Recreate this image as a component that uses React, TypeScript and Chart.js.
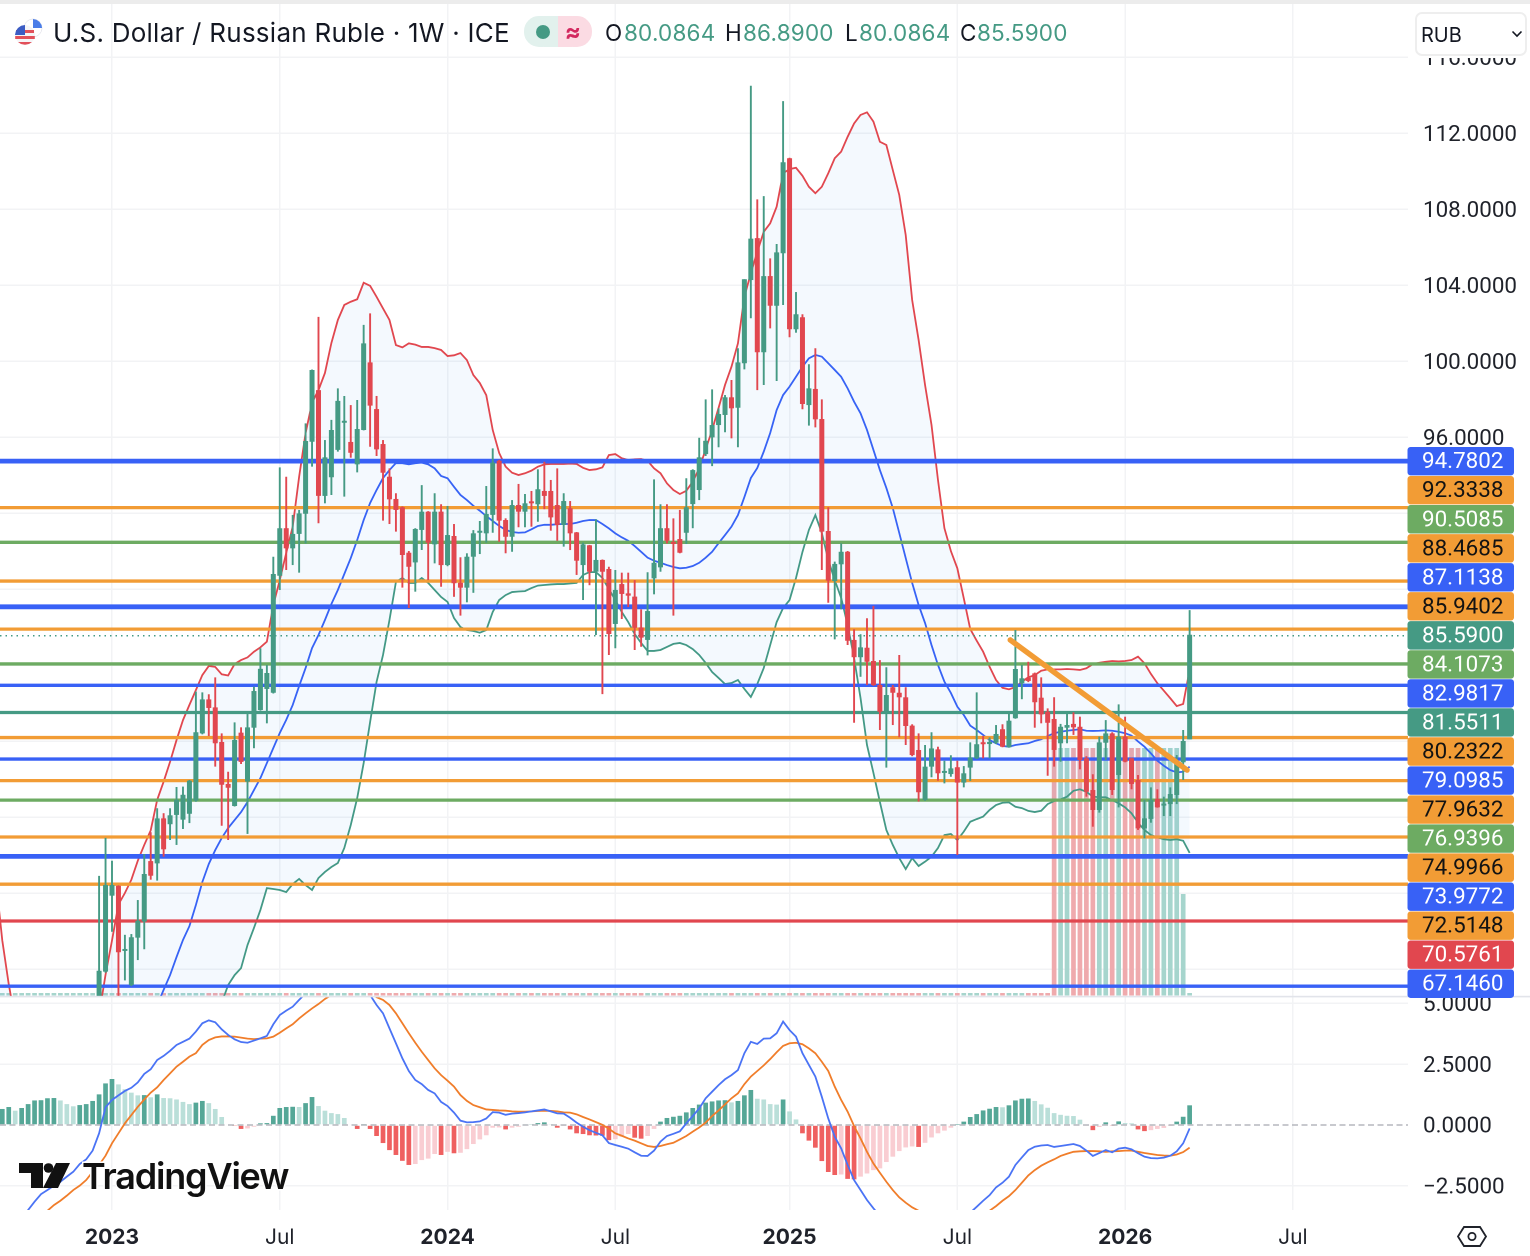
import React, { useEffect, useRef } from 'react';
import Chart from 'chart.js/auto';

// weekly candles, week 0 is the first week of 2023
const firstCandleWeek = -2;
const firstSeriesWeek = -18;

const opens = [
  65, 67.86, 71.86, 72.38, 68.95, 67.16, 69.65, 70.5, 73.68, 73.56, 75.93, 75.62, 76.11, 75.86, 76.17, 76.86, 80.4, 82.19, 81.77, 79.95,
  77.74, 76.58, 80.44, 77.86, 80.7, 81.63, 82.74, 82.54, 88.7, 91.2, 90.14, 90.9, 91.96, 95.75, 98.47, 92.9, 93.88, 95.32, 96.75, 95.74,
  94.56, 96.37, 99.93, 97.47, 95.63, 93.91, 92.74, 92.3, 89.91, 89.4, 91.11, 92.07, 90.35, 92.07, 89.26, 90.79, 88.33, 88.07, 89.7, 90.96,
  90.93, 91.9, 94.75, 91.63, 90.75, 92.42, 92.07, 92.58, 92.46, 93.16, 93.16, 92.42, 91.37, 92.25, 90.98, 89.26, 90.3, 88.91, 89.53, 89.05,
  86.16, 88.26, 87.77, 87.6, 85.98, 85.32, 88.56, 89.14, 91.2, 90.44, 90.63, 90.96, 92.47, 93.21, 95.1, 95.98, 96.63, 97.16, 98.09, 97.54,
  99.88, 104.26, 106.47, 100.46, 104.47, 102.91, 105.67, 110.67, 101.67, 102.3, 97.68, 98.53, 96.95, 91.05, 88.42, 89.3, 89.96, 85.32, 84.41, 84.91,
  84.21, 82.95, 81.46, 82.83, 82.54, 82.3, 80.81, 79.53, 76.9, 78.65, 79.56, 78.32, 78.26, 78.62, 77.81, 78.6, 79.09, 79.9, 79.84, 79.91,
  80.62, 79.67, 81.2, 83.04, 83.33, 83.56, 82.28, 81.54, 81.16, 79.88, 80.7, 80.9, 80.75, 79.09, 77.42, 76.37, 79.91, 80.4, 78.21, 80.23,
  79.09, 77.95, 75.4, 75.9, 76.95, 76.6, 76.68, 77.16, 78.88, 80.0864,
];
const highs = [
  72.9, 74.9, 73.7, 72.4, 69.8, 69.84, 71.63, 74.05, 75.2, 76.46, 76.2, 76.46, 77.58, 77.6, 77.95, 82.6, 82.56, 82.46, 83.35, 80.4,
  78.38, 80.98, 80.72, 81.42, 82.86, 84.88, 84, 89.7, 94.4, 93.91, 91.9, 92.16, 96.72, 99.55, 102.32, 95.84, 96.9, 98.56, 98.16, 97.68,
  97.95, 101.9, 102.51, 98.16, 95.84, 94.35, 93.04, 92.35, 90, 91.2, 93.47, 92.1, 93.04, 92.46, 92.37, 91.42, 89.67, 89.88, 91.1, 91.58,
  93.42, 95.4, 94.8, 91.72, 92.68, 93.53, 93, 93.16, 94.3, 94.7, 93.74, 94.35, 93.04, 92.63, 91, 90.44, 90.32, 91.67, 89.55, 89.17,
  89, 88.86, 88.86, 88.47, 86.93, 88.88, 93.77, 92.46, 92.46, 91.72, 92.16, 93.83, 94.3, 95.96, 97.98, 98.51, 97.51, 98.21, 99, 100.67,
  104.3, 114.49, 108.51, 108.68, 105.4, 106.16, 113.68, 110.7, 103.63, 102.46, 99.83, 100.67, 97.98, 92.3, 89.44, 90.4, 90, 85.88, 85.62, 86.46,
  87.11, 84.26, 83.88, 82.95, 84.53, 82.83, 80.88, 80.4, 79.79, 80.46, 79.7, 78.96, 79.25, 78.96, 78.68, 79.93, 82.56, 80.26, 80.19, 80.84,
  80.88, 81.46, 85.84, 84, 84.17, 83.6, 83.35, 81.72, 82.3, 80.9, 81.46, 81.51, 81.28, 79.2, 78.25, 80.23, 81.1, 80.46, 81.93, 81.28,
  79.12, 78.21, 76.9, 77.56, 77.46, 77.07, 77.56, 79.26, 80.58, 86.89,
];
const lows = [
  64, 67.8, 69.96, 66, 67.4, 67.1, 68.47, 69.04, 72.7, 72.65, 73.91, 74.79, 74.53, 75.37, 75.68, 76.8, 80.35, 80.26, 78.65, 75.54,
  74.79, 76.55, 78.79, 75.11, 79.62, 81.6, 80.93, 82.5, 87.95, 89, 89.26, 88.86, 90.4, 94.44, 91.46, 92.51, 92.95, 95.23, 92.86, 94.91,
  94.14, 96.35, 95.49, 95, 91.6, 91.42, 91.02, 88.07, 87, 87.86, 90.05, 88.47, 89.35, 88.12, 89.2, 87.59, 86.6, 87.3, 87.8, 89.84,
  90.44, 90.96, 90.49, 89.88, 89.96, 91.25, 91.25, 91.28, 91.54, 92.2, 91.07, 90.54, 90.23, 90.05, 88.74, 87.42, 88.2, 85.58, 82.47, 84.53,
  84.88, 86.42, 87.05, 84.79, 84.96, 84.51, 87.72, 88.91, 90.4, 86.6, 89.88, 90.37, 91.2, 92.68, 95, 94.47, 95.46, 96.25, 95.93, 95.46,
  99.56, 102.25, 98.47, 98.74, 101.72, 98.95, 102.95, 101.25, 101.49, 97.46, 96.6, 96.51, 89, 87.28, 85.35, 86.93, 85.05, 80.96, 83.38, 82.95,
  82.9, 80.58, 78.6, 80.84, 80.2, 79.79, 79.2, 76.81, 76.85, 78.09, 77.91, 77.77, 78.12, 74, 77.56, 77.9, 79.05, 79.09, 79.09, 79.84,
  79.67, 79.65, 81.17, 82.2, 83.1, 80.7, 80.93, 78.17, 78.65, 78.91, 79.88, 80.32, 78.51, 77.07, 75.49, 76.23, 79, 77.16, 76.51, 78.88,
  77.46, 75.32, 74.88, 75.7, 76.49, 76.05, 76.05, 76.68, 77.95, 80.0864,
];
const closes = [
  67.91, 72.42, 72.42, 68.88, 69, 69.67, 70.54, 73, 72.91, 75.93, 74.3, 76.09, 76.9, 77.17, 77.91, 80.46, 82.19, 81.74, 79.88, 77.7,
  77.54, 80.05, 78.9, 80.72, 82.63, 83.8, 83.58, 88.79, 91.2, 90.14, 90.9, 91.98, 95.79, 99.53, 92.9, 94.93, 96.37, 97.9, 96.8, 95.17,
  96.42, 100.93, 97.65, 95.35, 94.12, 92.72, 92.16, 89.79, 89.17, 91.16, 92.07, 90.44, 92.07, 89.26, 90.84, 88.3, 88.07, 89.7, 90.93, 90.98,
  91.95, 94.65, 91.6, 90.75, 92.42, 92.07, 92.51, 92.51, 93.25, 92.9, 91.77, 91.37, 92.63, 90.93, 89.49, 90.35, 88.91, 89.53, 88.91, 85.63,
  87.95, 87.74, 87.65, 85.96, 85.44, 86.84, 89.38, 91.2, 90.54, 90.37, 89.91, 92.3, 94.26, 94.93, 95.8, 96.63, 97.21, 98.09, 97.51, 99.93,
  104.3, 106.44, 100.46, 104.47, 102.91, 105.72, 110.46, 101.67, 102.46, 97.74, 98.56, 96.93, 91.02, 88.44, 89.32, 89.96, 85.28, 84.41, 84.93, 84.17,
  82.95, 81.54, 82.42, 82.54, 82.3, 80.79, 79.26, 77.3, 78.65, 79.61, 78.3, 78.35, 78.56, 77.81, 78.3, 79.14, 79.83, 79.83, 79.95, 80.37,
  79.7, 81.07, 83.79, 83.3, 83.16, 82.04, 81.4, 80.96, 79.53, 80.75, 80.84, 80.72, 79, 77.33, 76.37, 79.93, 80.4, 77.42, 80.23, 78.91,
  77.74, 75.4, 75.93, 76.9, 76.51, 76.68, 77.21, 78.88, 80, 85.59,
];

const volumes = [
  1, 1, 1, 1, 1, 1, 1, 1, 1, 1, 1, 1, 1, 1, 1, 1, 1, 1, 1, 1, 1, 1, 1, 1, 1, 1, 1, 1, 1, 1, 1, 1, 1, 1, 1, 1, 1, 1, 1, 1,
  1, 1, 1, 1, 1, 1, 1, 1, 1, 1, 1, 1, 1, 1, 1, 1, 1, 1, 1, 1, 1, 1, 1, 1, 1, 1, 1, 1, 1, 1, 1, 1, 1, 1, 1, 1, 1, 1, 1, 1,
  1, 1, 1, 1, 1, 1, 1, 1, 1, 1, 1, 1, 1, 1, 1, 1, 1, 1, 1, 1, 1, 1, 1, 1, 1, 1, 1, 1, 1, 1, 1, 1, 1, 1, 1, 1, 1, 1, 1, 1,
  1, 1, 1, 1, 1, 1, 1, 1, 1, 1, 1, 1, 1, 1, 1, 1, 1, 1, 1, 1, 1, 1, 1, 1, 1, 1, 1, 1, 1, 1, 1, 1, 1, 1, 1, 1, 1, 1, 1, 1,
  1, 1, 1, 1, 100, 100, 100, 100, 100, 100, 100, 100, 100, 100, 100, 100, 100, 100, 100, 100, 100, 100, 100, 100, 41, 1,
];

// bollinger bands, from firstSeriesWeek
const bbUpper = [
  72.7, 69.5, 67.2, 65.3, 64.5, 64, 63.6, 63.4, 63.2, 63.1, 63, 63, 63.2, 63.5, 64, 64.8, 65.6, 67.7, 69.5, 71.4,
  72, 72.7, 73.7, 74.53, 75.3, 76.9, 77.86, 78.91, 80.05, 81.1, 81.9, 82.68, 83.47, 83.95, 83.9, 83.51, 83.45, 84.05, 84.26, 84.4,
  84.7, 84.93, 85.23, 87.16, 88.47, 89.9, 91.28, 93.91, 96.2, 97.8, 98.47, 99.37, 100.95, 102.16, 102.95, 103.12, 103.25, 104.12, 103.96, 103.38,
  102.77, 102.16, 100.84, 100.72, 100.93, 100.86, 100.74, 100.74, 100.68, 100.58, 100.26, 100.3, 100.42, 100.05, 99.26, 98.84, 98.2, 96.37, 95.16, 94.44,
  94.12, 94, 94.09, 94.23, 94.44, 94.56, 94.58, 94.58, 94.58, 94.6, 94.58, 94.38, 94.26, 94.3, 94.4, 95.05, 95.1, 94.88, 94.79, 94.83,
  94.84, 94.75, 94.35, 94.09, 93.56, 93.21, 93, 93.17, 93.65, 94.35, 95.35, 96.37, 97.53, 98.74, 99.7, 100.93, 103.38, 104.62, 105.75, 106.8,
  107.25, 108.12, 109.88, 110.1, 110.17, 109.75, 109.17, 108.83, 109.17, 109.88, 110.67, 111.02, 111.8, 112.5, 112.95, 113.09, 112.6, 111.54, 111.37, 110.05,
  108.74, 106.63, 103.21, 101.11, 98.74, 96.63, 93.74, 91.2, 90, 89.09, 87.51, 85.89, 85.28, 84.7, 83.91, 83.21, 82.8, 82.72, 82.84, 83.12,
  83.35, 83.47, 83.7, 83.77, 83.77, 83.77, 83.79, 83.77, 83.74, 83.83, 84.05, 84.12, 84.17, 84.21, 84.19, 84.21, 84.26, 84.44, 84.09, 83.53,
  83.04, 82.65, 82.25, 81.84, 81.95, 83.74,
];
const bbMid = [
  64.5, 63, 61.8, 61, 60.5, 60.2, 60, 60, 60, 60.1, 60.2, 60.4, 60.6, 60.8, 61, 61.3, 61.6, 62, 62.4, 62.9,
  63.4, 63.9, 64.4, 64.9, 65.5, 66.1, 66.9, 67.68, 68.63, 69.53, 70.26, 71.37, 72.58, 73.53, 74.26, 74.89, 75.42, 75.84, 76.26, 76.79,
  77.42, 78.05, 78.84, 79.63, 80.42, 81.11, 81.89, 82.89, 83.84, 84.89, 85.58, 86.37, 87.21, 87.95, 88.79, 89.63, 90.58, 91.63, 92.53, 93.21,
  93.84, 94.26, 94.63, 94.62, 94.56, 94.62, 94.65, 94.56, 94.35, 93.95, 93.83, 93.38, 92.95, 92.68, 92.38, 92.12, 91.84, 91.58, 91.32, 91.11,
  91, 90.96, 90.98, 91.14, 91.32, 91.38, 91.38, 91.41, 91.42, 91.42, 91.49, 91.58, 91.63, 91.63, 91.42, 91.19, 90.93, 90.72, 90.54, 90.26,
  89.96, 89.65, 89.49, 89.38, 89.26, 89.16, 89.09, 89.12, 89.21, 89.38, 89.65, 89.96, 90.41, 90.84, 91.28, 91.89, 92.84, 93.84, 94.37, 95.23,
  96.21, 97.42, 98.21, 98.65, 99.17, 99.7, 100.14, 100.32, 100.23, 99.88, 99.53, 99.17, 98.56, 97.86, 97.25, 96.37, 95.32, 94.26, 93.32, 92.26,
  90.95, 89.63, 88.32, 87.16, 86.21, 85.05, 84, 83.12, 82.53, 81.81, 81.37, 80.81, 80.58, 80.32, 80.05, 79.88, 79.74, 79.7, 79.79, 79.84,
  79.88, 80, 80.09, 80.26, 80.41, 80.49, 80.54, 80.58, 80.62, 80.54, 80.53, 80.54, 80.56, 80.54, 80.49, 80.41, 80.28, 79.98, 79.7, 79.35,
  78.96, 78.7, 78.47, 78.35, 78.38, 78.65,
];
const bbLower = [
  57.5, 57.2, 57, 56.8, 56.6, 56.5, 56.5, 56.6, 56.8, 57, 57.2, 57.4, 57.6, 57.8, 58, 58.2, 58.4, 58.6, 58.8, 59,
  59.2, 59.5, 59.8, 60.1, 60.4, 60.7, 61, 61.3, 61.7, 62.2, 62.8, 63.4, 64, 64.6, 65.4, 66.21, 67.16, 67.68, 68.05, 69.26,
  70.16, 71.11, 72.26, 72.21, 72.16, 72.05, 72.47, 72.74, 72.42, 72.16, 72.79, 73.11, 73.37, 73.58, 74.37, 75.58, 77, 78.84, 81, 83.11,
  84.53, 86.37, 88.37, 88.58, 88.32, 88.32, 88.58, 88.32, 87.95, 87.58, 87.32, 86.47, 86, 85.84, 85.79, 85.7, 85.84, 86.79, 87.42, 87.68,
  87.84, 87.87, 87.89, 88.05, 88.18, 88.21, 88.24, 88.26, 88.26, 88.29, 88.32, 88.74, 88.89, 88.89, 88.58, 88, 87.42, 86.79, 86.26, 85.63,
  85.16, 84.74, 84.74, 84.79, 84.95, 85.11, 85.16, 85.05, 84.84, 84.53, 84.11, 83.63, 83.32, 83, 83.05, 83.21, 82.74, 82.32, 83, 83.84,
  85.05, 86.26, 87, 87.42, 88.58, 89.95, 91.11, 91.89, 90.95, 89.53, 88.47, 87.53, 86.11, 84.37, 82.26, 79.79, 78.32, 76.79, 75.32, 74.53,
  73.84, 73.26, 73.84, 73.42, 73.65, 73.91, 74.37, 75.05, 75.11, 74.79, 75.23, 75.75, 75.89, 76.02, 76.37, 76.63, 76.75, 76.77, 76.54, 76.47,
  76.32, 76.26, 76.33, 76.68, 76.84, 76.93, 77.07, 77.38, 77.46, 77.33, 77.07, 77.04, 77.04, 76.89, 76.72, 76.51, 76.19, 75.7, 75.32, 75.05,
  74.93, 74.83, 74.79, 74.83, 74.75, 74.11,
];

// macd pane, from firstSeriesWeek
const macdLine = [
  -5.14, -4.86, -4.59, -4.18, -3.84, -3.49, -3.15, -2.84, -2.67, -2.49, -2.33, -2.12, -1.92, -1.6, -1.41, -1.05, -0.34, 0.73, 1.03, 1.22,
  1.4, 1.53, 1.75, 2.1, 2.29, 2.67, 2.84, 3.05, 3.29, 3.42, 3.55, 3.84, 4.18, 4.3, 4.22, 3.93, 3.7, 3.52, 3.41, 3.38,
  3.47, 3.56, 3.66, 4.14, 4.52, 4.7, 4.86, 5.14, 5.41, 5.68, 5.89, 6.03, 6.16, 6.23, 6.26, 6.23, 6.03, 5.68, 5.34, 4.93,
  4.59, 3.97, 3.36, 2.74, 2.22, 1.85, 1.68, 1.44, 1.3, 0.95, 0.78, 0.51, 0.18, 0.11, 0.12, 0.15, 0.27, 0.53, 0.51, 0.42,
  0.47, 0.49, 0.52, 0.56, 0.6, 0.64, 0.56, 0.48, 0.47, 0.3, 0.1, -0.07, -0.21, -0.32, -0.42, -0.74, -0.82, -0.89, -0.97, -1.12,
  -1.26, -1.27, -1.05, -0.68, -0.45, -0.36, -0.26, 0.07, 0.37, 0.68, 1.1, 1.37, 1.64, 1.88, 2.05, 2.26, 2.95, 3.42, 3.33, 3.55,
  3.56, 3.77, 4.25, 3.9, 3.63, 2.95, 2.47, 1.99, 1.16, 0.27, -0.48, -0.96, -1.64, -2.26, -2.67, -3.08, -3.42, -3.74, -4.04, -4.38,
  -4.73, -5, -5.27, -5.41, -5.55, -5.62, -5.55, -5.34, -5, -4.59, -4.11, -3.6, -3.36, -3.11, -2.88, -2.56, -2.37, -2.12, -1.64, -1.33,
  -1.03, -0.89, -0.84, -0.82, -0.9, -0.86, -0.82, -0.78, -0.86, -1.05, -1.27, -1.15, -1.03, -1.12, -0.97, -0.93, -1, -1.16, -1.3, -1.36,
  -1.37, -1.34, -1.26, -1.08, -0.75, -0.14,
];
const signalLine = [
  -5.41, -5.27, -5.07, -4.79, -4.52, -4.25, -4.04, -3.77, -3.52, -3.29, -3.11, -2.9, -2.67, -2.49, -2.26, -1.92, -1.64, -1.26, -0.75, -0.34,
  0.07, 0.41, 0.75, 1.05, 1.33, 1.55, 1.85, 2.12, 2.4, 2.6, 2.81, 2.95, 3.29, 3.49, 3.6, 3.64, 3.64, 3.63, 3.59, 3.55,
  3.53, 3.55, 3.56, 3.63, 3.79, 3.97, 4.14, 4.38, 4.59, 4.79, 4.97, 5.18, 5.34, 5.48, 5.62, 5.68, 5.71, 5.62, 5.44, 5.25,
  5.14, 4.93, 4.59, 4.18, 3.77, 3.38, 3.01, 2.67, 2.33, 2.05, 1.82, 1.58, 1.23, 0.99, 0.82, 0.73, 0.64, 0.62, 0.6, 0.59,
  0.56, 0.55, 0.55, 0.56, 0.58, 0.59, 0.58, 0.56, 0.52, 0.51, 0.44, 0.33, 0.23, 0.12, 0.01, -0.15, -0.34, -0.44, -0.55, -0.64,
  -0.75, -0.86, -0.9, -0.86, -0.79, -0.73, -0.59, -0.45, -0.27, -0.1, 0.1, 0.37, 0.6, 0.85, 1.1, 1.3, 1.68, 1.99, 2.22, 2.45,
  2.71, 2.99, 3.25, 3.36, 3.38, 3.32, 3.15, 2.95, 2.6, 2.22, 1.58, 1.03, 0.55, -0.04, -0.55, -1.1, -1.58, -1.96, -2.33, -2.67,
  -2.97, -3.19, -3.38, -3.52, -3.7, -3.84, -3.97, -4.11, -4.18, -4.25, -4.25, -4.18, -4.04, -3.84, -3.52, -3.33, -3.11, -2.92, -2.67, -2.37,
  -2.07, -1.85, -1.67, -1.53, -1.41, -1.27, -1.18, -1.1, -1.08, -1.07, -1.07, -1.08, -1.1, -1.08, -1.07, -1.05, -1.05, -1.1, -1.15, -1.19,
  -1.23, -1.25, -1.26, -1.21, -1.11, -0.93,
];
const histogram = [
  0.62, 0.66, 0.74, 0.59, 0.7, 0.86, 1.01, 1.02, 1.1, 1.11, 1.01, 0.86, 0.77, 0.82, 0.86, 0.99, 1.26, 1.71, 1.89, 1.67,
  1.47, 1.33, 1.22, 1.23, 1.14, 1.26, 1.11, 1.1, 1.05, 0.95, 0.86, 0.92, 0.99, 0.9, 0.66, 0.33, 0.03, -0.02, -0.16, -0.14,
  -0.07, 0.07, 0.08, 0.38, 0.7, 0.74, 0.75, 0.74, 0.9, 1.15, 0.78, 0.59, 0.49, 0.45, 0.29, 0.03, -0.16, 0.04, -0.16, -0.45,
  -0.74, -1.03, -1.23, -1.47, -1.64, -1.6, -1.44, -1.38, -1.19, -1.23, -1.1, -1.16, -1.14, -0.99, -0.78, -0.59, -0.42, -0.11, -0.1, -0.18,
  -0.11, -0.07, 0.03, 0.04, 0.08, 0.11, 0.04, -0.11, -0.02, -0.18, -0.34, -0.37, -0.42, -0.43, -0.44, -0.62, -0.58, -0.48, -0.37, -0.52,
  -0.56, -0.45, -0.16, 0.14, 0.29, 0.34, 0.38, 0.52, 0.7, 0.84, 0.92, 0.97, 1.01, 1.02, 0.93, 0.99, 1.22, 1.44, 1.08, 1.05,
  0.86, 0.84, 1.05, 0.56, 0.23, -0.34, -0.64, -0.93, -1.48, -1.93, -2.05, -2.03, -2.21, -2.23, -2.12, -1.99, -1.85, -1.78, -1.52, -1.3,
  -1.07, -0.92, -0.88, -0.9, -0.73, -0.51, -0.34, -0.23, -0.11, 0.01, 0.14, 0.33, 0.45, 0.6, 0.67, 0.74, 0.73, 0.81, 1.01, 1.08,
  1.09, 0.99, 0.85, 0.71, 0.49, 0.42, 0.38, 0.37, 0.22, -0.03, -0.21, -0.08, 0.11, -0.04, 0.15, 0.08, 0.07, -0.18, -0.25, -0.21,
  -0.16, -0.12, -0.01, 0.14, 0.34, 0.81,
];

// horizontal levels, top to bottom, with the colour of the level
const levelValues = [94.7802, 92.3338, 90.5085, 88.4685, 87.1138, 85.9402, 85.59, 84.1073, 82.9817, 81.5511, 80.2322, 79.0985, 77.9632, 76.9396, 74.9966, 73.9772, 72.5148, 70.5761, 67.146];
const BLUE = '#3861f6';
const ORANGE = '#f29c35';
const LEAF = '#6dab62';
const TEAL = '#459a84';
const RED = '#e1474f';
const levelColors = [BLUE, ORANGE, LEAF, ORANGE, BLUE, ORANGE, TEAL, LEAF, BLUE, TEAL, ORANGE, BLUE, ORANGE, LEAF, ORANGE, BLUE, ORANGE, RED, BLUE];
const levelWidths = [4.8, 3.3, 3.3, 3.3, 4.8, 3.3, 1.6, 3.3, 3.3, 3.3, 3.3, 3.3, 3.3, 3.3, 3.3, 4.8, 3.3, 3.3, 3.3];
// candles were read a touch high against the printed levels, this lines the two up
const levelCalibration = -0.05;

const trendWeeks = [139.2, 166.6];
const trendValues = [85.32, 78.47];

const priceTicks = [116, 112, 108, 104, 100, 96, 92, 88, 84, 80, 76, 72, 68];
const macdTicks = [5, 2.5, 0, -2.5];
const timeTickWeeks = [0, 26, 52, 78, 105, 131, 157, 183];
const timeTickLabels = ['2023', 'Jul', '2024', 'Jul', '2025', 'Jul', '2026', 'Jul'];
const yearWeeks = [0, 52, 105, 157];

const X_MIN = -17.356;
const X_MAX = 200.84;
const GRID = '#f2f3f5';
const TEXT = '#1f222a';
const FONT = 'Inter, "Noto Sans", sans-serif';
const NUM_FONT = 'Roboto, Inter, sans-serif';
const NUM_SIZE = 22.4;

const series = (values: number[]) => values.map((y, k) => ({ x: firstSeriesWeek + k, y }));
const level = (v: number) => [{ x: X_MIN, y: v }, { x: X_MAX, y: v }];

// tick padding would otherwise push the plot area in from the canvas edges
const fitAxis = (width?: number, height?: number) => (s: any) => {
  if (width) s.width = width;
  if (height) s.height = height;
  s.paddingTop = 0;
  s.paddingBottom = 0;
  s.paddingLeft = 0;
  s.paddingRight = 0;
};

// price labels stacked down the right edge, and the pane separator
const overlayPlugin = {
  id: 'overlay',
  afterDatasetsDraw(chart: any) {
    const { ctx } = chart;
    ctx.save();
    ctx.fillStyle = '#e2e4ea';
    ctx.fillRect(0, 995.8, 1530, 1.6);
    ctx.fillStyle = '#fff';
    ctx.fillRect(1408, 447, 107, 549);
    ctx.font = `${NUM_SIZE}px ${NUM_FONT}`;
    ctx.textBaseline = 'middle';
    levelValues.forEach((v, k) => {
      const top = 447 + k * 29.03;
      ctx.fillStyle = levelColors[k];
      ctx.beginPath();
      ctx.roundRect(1407.5, top, 106.5, 28.4, 3);
      ctx.fill();
      ctx.fillStyle = levelColors[k] === ORANGE ? '#131313' : '#ffffff';
      ctx.fillText(v.toFixed(4), 1422, top + 15.6);
    });
    ctx.restore();
  },
};

const App = () => {
  const canvasRef = useRef<HTMLCanvasElement>(null);

  useEffect(() => {
    if (!canvasRef.current) return;
    const candleX = (k: number) => firstCandleWeek + k;
    const candleColors = closes.map((c, k) => (c >= opens[k] ? TEAL : RED));
    const lineBase = { type: 'line', pointRadius: 0, tension: 0, fill: false };
    const barBase = { type: 'bar', grouped: false, borderWidth: 0, inflateAmount: 0 };

    const datasets: any[] = [
      {
        ...barBase,
        order: 20,
        yAxisID: 'yVol',
        barThickness: 4.7,
        data: series(volumes),
        backgroundColor: volumes.map((_, k) => {
          const c = k + firstSeriesWeek - firstCandleWeek;
          return c >= 0 && closes[c] < opens[c] ? '#efaaad' : '#a6d5cd';
        }),
      },
      {
        ...lineBase,
        order: 10,
        yAxisID: 'y',
        borderColor: RED,
        borderWidth: 1.8,
        data: series(bbUpper),
        fill: { target: '+1' },
        backgroundColor: 'rgba(33,130,243,0.05)',
      },
      { ...lineBase, order: 10, yAxisID: 'y', borderColor: TEAL, borderWidth: 1.8, data: series(bbLower) },
      { ...lineBase, order: 10, yAxisID: 'y', borderColor: BLUE, borderWidth: 1.8, data: series(bbMid) },
      {
        ...barBase,
        order: 9,
        yAxisID: 'yMacd',
        barThickness: 4.7,
        data: series(histogram),
        backgroundColor: histogram.map((h, k) => {
          const prev = k > 0 ? histogram[k - 1] : h;
          if (h >= 0) return h >= prev ? '#55a797' : '#badfd9';
          return h <= prev ? '#ef6060' : '#f9cdd2';
        }),
      },
      {
        ...lineBase,
        order: 8,
        yAxisID: 'yMacd',
        borderColor: '#b5b7bd',
        borderWidth: 1.5,
        borderDash: [6, 3.5],
        data: level(0),
      },
      { ...lineBase, order: 7, yAxisID: 'yMacd', borderColor: '#4a73f5', borderWidth: 1.8, data: series(macdLine) },
      { ...lineBase, order: 7, yAxisID: 'yMacd', borderColor: '#f07d2a', borderWidth: 1.8, data: series(signalLine) },
      ...levelValues.map((v, k) => ({
        ...lineBase,
        order: 5,
        yAxisID: 'y',
        borderColor: levelColors[k],
        borderWidth: levelWidths[k],
        borderDash: v === 85.59 ? [1.5, 4] : [],
        data: level(v + levelCalibration),
      })),
      {
        ...barBase,
        order: 3,
        yAxisID: 'y',
        barThickness: 1.9,
        data: highs.map((h, k) => ({ x: candleX(k), y: [lows[k], h] })),
        backgroundColor: candleColors,
      },
      {
        ...barBase,
        order: 2,
        yAxisID: 'y',
        barThickness: 5,
        minBarLength: 2,
        data: opens.map((o, k) => ({ x: candleX(k), y: [o, closes[k]] })),
        backgroundColor: candleColors,
      },
      {
        ...lineBase,
        order: 1,
        yAxisID: 'y',
        borderColor: ORANGE,
        borderWidth: 5.5,
        borderCapStyle: 'round',
        data: trendWeeks.map((x, k) => ({ x, y: trendValues[k] })),
      },
    ];

    const chart = new Chart(canvasRef.current, {
      type: 'bar',
      data: { datasets },
      plugins: [overlayPlugin],
      options: {
        animation: false,
        responsive: false,
        devicePixelRatio: 2,
        events: [],
        layout: { autoPadding: false, padding: { top: 4, left: 0, right: 0, bottom: 0 } },
        plugins: { legend: { display: false }, tooltip: { enabled: false } },
        scales: {
          x: {
            type: 'linear',
            min: X_MIN,
            max: X_MAX,
            offset: false,
            border: { display: false },
            grid: { color: GRID, lineWidth: 1.5, drawTicks: false, offset: false },
            afterFit: fitAxis(undefined, 46),
            afterBuildTicks: (s: any) => { s.ticks = timeTickWeeks.map((value) => ({ value })); },
            ticks: {
              autoSkip: false,
              maxRotation: 0,
              padding: 15,
              color: TEXT,
              callback: (v: any) => timeTickLabels[timeTickWeeks.indexOf(v)],
              font: (ctx: any) => ({
                family: FONT,
                size: 21,
                weight: ctx.tick && yearWeeks.includes(ctx.tick.value) ? '700' : '400',
              }),
            },
          },
          y: {
            type: 'linear',
            position: 'right',
            stack: 'panes',
            stackWeight: 992.5,
            min: 66.553,
            max: 118.79,
            border: { display: false },
            grid: { color: GRID, lineWidth: 1.5, drawTicks: false },
            afterFit: fitAxis(122),
            afterBuildTicks: (s: any) => { s.ticks = priceTicks.map((value) => ({ value })); },
            ticks: {
              autoSkip: false,
              padding: 15,
              labelOffset: 2.5,
              color: TEXT,
              font: { family: NUM_FONT, size: NUM_SIZE },
              callback: (v: any) => Number(v).toFixed(4),
            },
          },
          yMacd: {
            type: 'linear',
            position: 'right',
            stack: 'panes',
            stackWeight: 213.5,
            min: -3.49,
            max: 5.28,
            border: { display: false },
            grid: {
              color: (ctx: any) => (ctx.tick && ctx.tick.value === 0 ? 'transparent' : GRID),
              lineWidth: 1.5,
              drawTicks: false,
            },
            afterFit: fitAxis(122),
            afterBuildTicks: (s: any) => { s.ticks = macdTicks.map((value) => ({ value })); },
            ticks: {
              autoSkip: false,
              padding: 15,
              labelOffset: 2,
              color: TEXT,
              font: { family: NUM_FONT, size: NUM_SIZE },
              callback: (v: any) => Number(v).toFixed(4).replace('-', '\u2212'),
            },
          },
          yVol: { type: 'linear', display: false, min: -86.67, max: 400.6 },
        },
      } as any,
    });

    return () => {
      chart.destroy();
    };
  }, []);

  const legendValue = (left: number, letter: string, value: string, valueLeft: number) => (
    <>
      <span style={{ position: 'absolute', left, top: 19, font: `22.5px ${FONT}`, color: '#131722' }}>{letter}</span>
      <span style={{ position: 'absolute', left: valueLeft, top: 19, font: `22.5px ${FONT}`, letterSpacing: 0.2, color: TEAL }}>{value}</span>
    </>
  );

  return (
    <div style={{ position: 'absolute', left: 0, top: 0, width: 1530, height: 1256, background: '#fff', overflow: 'hidden' }}>
      <canvas ref={canvasRef} width={1530} height={1256} style={{ position: 'absolute', left: 0, top: 0 }} />
      <div style={{ position: 'absolute', left: 0, top: 0, width: 1530, height: 4, background: '#ececec' }} />
      <div style={{ position: 'absolute', left: 1408, top: 4, width: 122, height: 54, background: '#fff' }} />
      <svg width={1530} height={1256} style={{ position: 'absolute', left: 0, top: 0 }}>
        <circle cx={33} cy={28} r={9} fill="#fff" stroke="#e8e8ee" />
        <path d="M33 19a9 9 0 0 1 9 9h-9z" fill="#4a7de8" />
        <circle cx={25} cy={35} r={10} fill="#f5f5f7" />
        <path d="M16 30h18v3H16zM15.2 36h19.6v3H15.2zM18 42h14a10 10 0 0 1-14 0z" fill="#e2505a" />
        <path d="M25 25a10 10 0 0 0-10 10h10z" fill="#3b5cc4" />
        <rect x={524} y={16} width={34} height={31} rx={15} fill="#e2f1ed" />
        <rect x={558} y={16} width={34} height={31} rx={15} fill="#fbdbe3" />
        <rect x={544} y={16} width={14} height={31} fill="#e2f1ed" />
        <rect x={558} y={16} width={14} height={31} fill="#fbdbe3" />
        <circle cx={543} cy={32} r={7} fill={TEAL} />
        <text x={573} y={40} textAnchor="middle" fontFamily="Inter" fontSize={24} fontWeight={700} fill="#d3285f">≈</text>
        <path d="M19 1163h24v25H31v-15H19z" fill="#111" />
        <circle cx={48.5} cy={1168} r={4.8} fill="#111" />
        <path d="M56 1163h14l-12 25H43z" fill="#111" />
        <text x={82} y={1189} fontFamily="Inter" fontSize={36} fontWeight={600} letterSpacing={-1.2} fill="#111" stroke="#fff" strokeWidth={3} paintOrder="stroke">TradingView</text>
        <path d="M1464 1227h16l6 9.5-6 9.5h-16l-6-9.5z" fill="none" stroke="#20232b" strokeWidth={1.8} />
        <circle cx={1472} cy={1236.5} r={3.6} fill="none" stroke="#20232b" strokeWidth={1.8} />
      </svg>
      <span style={{ position: 'absolute', left: 53, top: 17, font: `26px ${FONT}`, letterSpacing: 0.25, color: '#131722', whiteSpace: 'nowrap' }}>
        U.S. Dollar / Russian Ruble · 1W · ICE
      </span>
      {legendValue(605, 'O', '80.0864', 624)}
      {legendValue(725, 'H', '86.8900', 743)}
      {legendValue(845, 'L', '80.0864', 859)}
      {legendValue(960, 'C', '85.5900', 977)}
      <div style={{ position: 'absolute', left: 1415, top: 12, width: 108, height: 40, border: '2px solid #eeeeee', borderRadius: 7, background: '#fff' }}>
        <span style={{ position: 'absolute', left: 4, top: 9, font: `20px ${FONT}`, color: '#131722' }}>RUB</span>
        <svg width={12} height={8} style={{ position: 'absolute', left: 94, top: 16 }}>
          <path d="M1.5 1.5L6 6l4.5-4.5" fill="none" stroke="#131722" strokeWidth={1.6} />
        </svg>
      </div>
    </div>
  );
};

export default App;
